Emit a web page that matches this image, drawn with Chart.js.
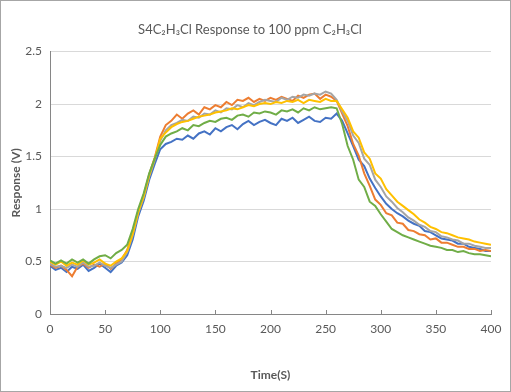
<!DOCTYPE html>
<html lang="en">
  <head>
    <meta charset="utf-8" />
    <title>S4C2H3Cl Response</title>
    <script src="https://cdn.jsdelivr.net/npm/chart.js@4.4.0/dist/chart.umd.min.js"></script>
    <style>
      html,
      body {
        margin: 0;
        padding: 0;
        background: #fff;
      }
      #wrap {
        box-sizing: border-box;
        width: 511px;
        height: 392px;
        border: 1px solid #a6a6a6;
        background: #fff;
      }
      canvas {
        display: block;
      }
    </style>
  </head>
  <body>
    <div id="wrap">
      <canvas id="chart" width="509" height="390"></canvas>
    </div>

    <script>
      // ---- data (every 5 s) -------------------------------------------------
      const times = [
        0, 5, 10, 15, 20, 25, 30, 35, 40, 45,
        50, 55, 60, 65, 70, 75, 80, 85, 90, 95,
        100, 105, 110, 115, 120, 125, 130, 135, 140, 145,
        150, 155, 160, 165, 170, 175, 180, 185, 190, 195,
        200, 205, 210, 215, 220, 225, 230, 235, 240, 245,
        250, 255, 260, 265, 270, 275, 280, 285, 290, 295,
        300, 305, 310, 315, 320, 325, 330, 335, 340, 345,
        350, 355, 360, 365, 370, 375, 380, 385, 390, 395,
        400,
      ];

      const blue = [
        0.46, 0.42, 0.44, 0.4, 0.45, 0.43, 0.47, 0.41, 0.44, 0.48,
        0.44, 0.4, 0.46, 0.49, 0.56, 0.71, 0.93, 1.08, 1.28, 1.43,
        1.57, 1.62, 1.64, 1.67, 1.66, 1.7, 1.67, 1.72, 1.74, 1.71,
        1.77, 1.74, 1.78, 1.8, 1.76, 1.81, 1.84, 1.8, 1.83, 1.85,
        1.82, 1.8, 1.86, 1.84, 1.87, 1.82, 1.85, 1.88, 1.84, 1.83,
        1.87, 1.86, 1.91, 1.84, 1.72, 1.6, 1.47, 1.41, 1.29, 1.2,
        1.12, 1.05, 1.0, 0.96, 0.93, 0.89, 0.86, 0.84, 0.79, 0.78,
        0.75, 0.72, 0.71, 0.7, 0.67, 0.67, 0.64, 0.63, 0.62, 0.6,
        0.6,
      ];

      const orange = [
        0.47, 0.44, 0.46, 0.42, 0.36, 0.45, 0.48, 0.44, 0.47, 0.45,
        0.48, 0.43, 0.48, 0.52, 0.61, 0.77, 0.98, 1.13, 1.33, 1.49,
        1.69, 1.8, 1.84, 1.9, 1.86, 1.91, 1.94, 1.9, 1.97, 1.95,
        1.99, 1.97, 2.02, 1.99, 2.04, 2.03, 2.06, 2.02, 2.05, 2.03,
        2.06, 2.04, 2.07, 2.05, 2.03, 2.08, 2.06, 2.09, 2.1, 2.05,
        2.09, 2.07, 2.03, 1.91, 1.79, 1.62, 1.51, 1.34, 1.22, 1.09,
        1.04, 0.96, 0.94, 0.87, 0.86, 0.8, 0.79, 0.76, 0.75, 0.71,
        0.72, 0.68, 0.68, 0.66, 0.64, 0.64, 0.62, 0.62, 0.6, 0.61,
        0.6,
      ];

      const gray = [
        0.48, 0.45, 0.46, 0.44, 0.47, 0.45, 0.49, 0.45, 0.46, 0.49,
        0.46, 0.44, 0.47, 0.5, 0.59, 0.75, 0.96, 1.11, 1.31, 1.47,
        1.65, 1.75, 1.8, 1.82, 1.85, 1.84, 1.88, 1.87, 1.91, 1.9,
        1.94, 1.92, 1.96, 1.95, 1.99, 1.97, 2.01, 1.99, 2.02, 2.04,
        2.03, 2.02, 2.06, 2.04, 2.07, 2.06, 2.09, 2.08, 2.1, 2.09,
        2.12, 2.1, 2.04, 1.93, 1.84, 1.7, 1.63, 1.48, 1.42, 1.28,
        1.21, 1.12, 1.07, 1.01, 0.97, 0.92, 0.89, 0.85, 0.83, 0.79,
        0.78, 0.74, 0.73, 0.71, 0.7, 0.67, 0.67, 0.65, 0.64, 0.63,
        0.63,
      ];

      const yellow = [
        0.5, 0.47, 0.5, 0.46, 0.49, 0.47, 0.51, 0.47, 0.49, 0.52,
        0.48, 0.46, 0.5, 0.53, 0.6, 0.76, 0.97, 1.12, 1.32, 1.48,
        1.67, 1.73, 1.78, 1.81, 1.83, 1.84, 1.86, 1.88, 1.89, 1.9,
        1.92, 1.93, 1.94, 1.96, 1.95, 1.97, 1.99, 1.98, 2.0, 2.01,
        2.0, 2.02, 2.01, 2.03, 2.02, 2.04, 2.01, 2.04, 2.03, 2.02,
        2.05, 2.03, 2.03, 1.95, 1.87, 1.74, 1.68, 1.54, 1.48, 1.34,
        1.29, 1.19, 1.13, 1.07, 1.03, 0.99, 0.95, 0.9, 0.87, 0.83,
        0.81, 0.78, 0.77, 0.75, 0.73, 0.72, 0.71, 0.69, 0.68, 0.67,
        0.66,
      ];

      const green = [
        0.51, 0.48, 0.51, 0.48, 0.52, 0.49, 0.52, 0.48, 0.52, 0.55,
        0.56, 0.53, 0.58, 0.61, 0.66, 0.81, 1.0, 1.15, 1.34, 1.48,
        1.61, 1.69, 1.72, 1.74, 1.77, 1.75, 1.8, 1.79, 1.82, 1.84,
        1.83, 1.86, 1.87, 1.85, 1.89, 1.9, 1.88, 1.92, 1.91, 1.93,
        1.92, 1.9, 1.94, 1.93, 1.95, 1.92, 1.96, 1.94, 1.97, 1.95,
        1.96, 1.97, 1.96, 1.81, 1.6, 1.47, 1.28, 1.21, 1.07, 1.03,
        0.95, 0.88, 0.81, 0.78, 0.75, 0.73, 0.71, 0.69, 0.67, 0.65,
        0.64, 0.63, 0.61, 0.61, 0.59, 0.6, 0.58, 0.57, 0.57, 0.56,
        0.55,
      ];

      const seriesNames = ["S1", "S2", "S3", "S4", "S5"];
      const seriesValues = [blue, orange, gray, yellow, green];
      const seriesColors = ["#4472c4", "#ed7d31", "#a5a5a5", "#ffc000", "#70ad47"];

      const titleText = "S4C\u2082H\u2083Cl Response to 100 ppm C\u2082H\u2083Cl";
      const xTitle = "Time(S)";
      const yTitle = "Response (V)";

      // ---- helpers ----------------------------------------------------------
      function toPoints(values) {
        return values.map((y, i) => ({ x: times[i], y }));
      }

      // Excel style: short tick marks pointing up into the plot on the x axis
      const insideTicks = {
        id: "insideTicks",
        afterDatasetsDraw(chart) {
          const sx = chart.scales.x;
          const ctx = chart.ctx;
          ctx.save();
          ctx.strokeStyle = "#868686";
          ctx.lineWidth = 1;
          sx.ticks.forEach((t, i) => {
            const px = Math.round(sx.getPixelForTick(i)) + 0.5;
            ctx.beginPath();
            ctx.moveTo(px, sx.top);
            ctx.lineTo(px, sx.top - 4);
            ctx.stroke();
          });
          ctx.restore();
        },
      };

      const font = "Lato, 'Liberation Sans', 'DejaVu Sans', sans-serif";
      const textColor = "#595959";

      const datasets = seriesValues.map((vals, i) => ({
        label: seriesNames[i],
        data: toPoints(vals),
        parsing: false,
        borderColor: seriesColors[i],
        backgroundColor: seriesColors[i],
        borderWidth: 2,
        pointRadius: 0,
        tension: 0,
        order: 5 - i,
      }));

      new Chart(document.getElementById("chart").getContext("2d"), {
        type: "line",
        data: { datasets },
        plugins: [insideTicks],
        options: {
          responsive: false,
          animation: false,
          layout: { padding: { left: 8, right: 19, top: 0, bottom: 0 } },
          plugins: {
            legend: { display: false },
            tooltip: { enabled: false },
            title: {
              display: true,
              text: titleText,
              color: textColor,
              font: { family: font, size: 13, weight: "normal" },
              padding: { top: 21, bottom: 14 },
            },
          },
          scales: {
            x: {
              type: "linear",
              min: 0,
              max: 400,
              afterFit(axis) {
                axis.height = 77;
              },
              ticks: {
                stepSize: 50,
                color: textColor,
                font: { family: font, size: 12 },
                padding: 8,
                maxRotation: 0,
              },
              grid: { display: false, drawTicks: false },
              border: { display: true, color: "#868686", width: 1 },
              title: {
                display: true,
                text: xTitle,
                color: textColor,
                font: { family: font, size: 12, weight: "bold" },
                padding: { top: 4, bottom: 9 },
              },
            },
            y: {
              min: 0,
              max: 2.5,
              afterFit(axis) {
                axis.width = 41;
              },
              ticks: {
                stepSize: 0.5,
                color: textColor,
                font: { family: font, size: 12 },
                padding: 8,
                callback: (v) => String(v),
              },
              grid: { color: "#d9d9d9", drawTicks: false },
              border: { display: true, color: "#868686", width: 1 },
              title: {
                display: true,
                text: yTitle,
                color: textColor,
                font: { family: font, size: 12, weight: "bold" },
                padding: { top: 0, bottom: 4 },
              },
            },
          },
        },
      });
    </script>
  </body>
</html>
